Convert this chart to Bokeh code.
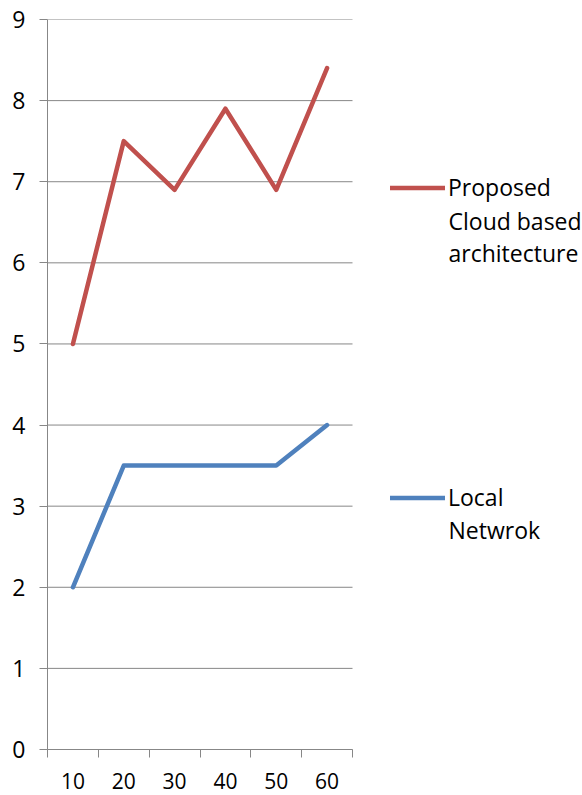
from bokeh.plotting import figure
from bokeh.models import FixedTicker, Legend, LegendItem, Label, Range1d
from bokeh.embed import file_html
from bokeh.resources import INLINE

# ---- data ----
x_values = [10, 20, 30, 40, 50, 60]
cloud_values = [5.0, 7.5, 6.9, 7.9, 6.9, 8.4]
local_values = [2.0, 3.5, 3.5, 3.5, 3.5, 4.0]
y_ticks = [0, 1, 2, 3, 4, 5, 6, 7, 8, 9]
cloud_label_lines = ["Proposed", "Cloud based", "architecture"]
local_label_lines = ["Local", "Netwrok"]

FONT = "Open Sans"
GRAY = "#878787"
RED = "#c0504d"
BLUE = "#4f81bd"

step = x_values[1] - x_values[0]
x_bounds = [x_values[0] - step / 2 + i * step for i in range(len(x_values) + 1)]

W, H = 582, 795
FL, FT, FB = 47, 19, 46
PLOT_W = 305          # width of the drawn chart area in px
frame_w = W - FL
px_per_unit = PLOT_W / (x_bounds[-1] - x_bounds[0])
x_end = x_bounds[0] + frame_w / px_per_unit

p = figure(width=W, height=H, output_backend="svg", toolbar_location=None,
           x_range=Range1d(x_bounds[0], x_end),
           y_range=Range1d(y_ticks[0], y_ticks[-1]),
           min_border_left=FL, min_border_right=0,
           min_border_top=FT, min_border_bottom=FB)
p.outline_line_color = None
p.background_fill_color = "white"
p.border_fill_color = "white"

# horizontal gridlines limited to the chart area
p.segment(x0=[x_bounds[0]] * len(y_ticks), x1=[x_bounds[-1]] * len(y_ticks),
          y0=y_ticks, y1=y_ticks, line_color=GRAY, line_width=1)

r_cloud = p.line(x_values, cloud_values, line_color=RED, line_width=4.5,
                 line_join="round", line_cap="round")
r_local = p.line(x_values, local_values, line_color=BLUE, line_width=4.5,
                 line_join="round", line_cap="round")

# x axis: labels at centers, tick marks at boundaries
xa = p.xaxis[0]
xa.bounds = (x_bounds[0], x_bounds[-1])
xa.ticker = FixedTicker(ticks=x_values, minor_ticks=x_bounds)
xa.axis_line_color = GRAY
xa.major_tick_line_color = None
xa.major_tick_out = 8
xa.major_tick_in = 0
xa.minor_tick_line_color = GRAY
xa.minor_tick_out = 8
xa.minor_tick_in = 0
xa.major_label_text_font = FONT
xa.major_label_text_font_size = "21px"
xa.major_label_text_color = "black"
xa.major_label_text_line_height = 1.0
xa.major_label_standoff = 15

ya = p.yaxis[0]
ya.ticker = FixedTicker(ticks=y_ticks, minor_ticks=[])
ya.axis_line_color = GRAY
ya.major_tick_line_color = GRAY
ya.major_tick_out = 8
ya.major_tick_in = 0
ya.minor_tick_line_color = None
ya.major_label_text_font = FONT
ya.major_label_text_font_size = "23px"
ya.major_label_text_color = "black"
ya.major_label_standoff = 14

p.xgrid.visible = False
p.ygrid.visible = False

frame_bottom = H - FB
ITEM_H = 33
LEG_FS = "23px"
legend = Legend(items=[LegendItem(label=cloud_label_lines[0], renderers=[r_cloud]),
                       LegendItem(label=local_label_lines[0], renderers=[r_local])],
                location=(390 - FL, frame_bottom - (497 + ITEM_H / 2)),
                orientation="vertical", spacing=(497 - 187) - ITEM_H,
                glyph_height=ITEM_H, glyph_width=55, label_height=ITEM_H,
                label_standoff=3, padding=0, margin=0,
                border_line_color=None, background_fill_alpha=0,
                label_text_font=FONT, label_text_font_size=LEG_FS,
                label_text_color="black")
p.add_layout(legend, "center")

for txt, base in [(cloud_label_lines[1], 220), (cloud_label_lines[2], 252),
                  (local_label_lines[1], 529)]:
    p.add_layout(Label(x=448 - FL, y=frame_bottom - base, x_units="screen", y_units="screen",
                       text=txt, text_font=FONT, text_font_size=LEG_FS,
                       text_color="black", text_baseline="alphabetic"))

open("out.html", "w").write(file_html(p, INLINE))
